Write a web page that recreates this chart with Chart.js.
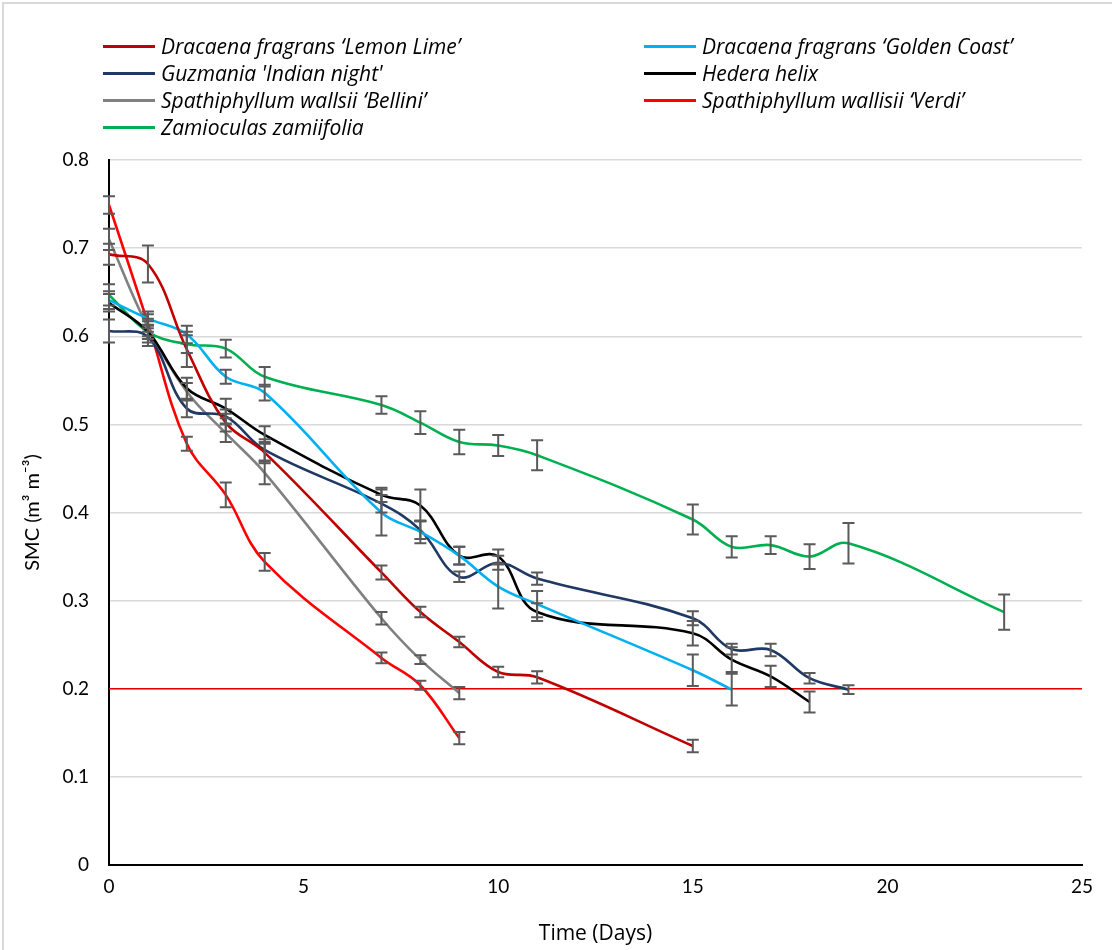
<!DOCTYPE html>
<html>
<head>
<meta charset="utf-8">
<script src="https://cdn.jsdelivr.net/npm/chart.js@4.4.0/dist/chart.umd.min.js"></script>
<style>
  html, body { margin: 0; padding: 0; background: #ffffff; }
  #wrap { position: relative; width: 1112px; height: 950px; overflow: hidden; }
  #frame { position: absolute; left: 2px; top: 2px; width: 1130px; height: 970px;
           border: 2px solid #d9d9d9; box-sizing: border-box; pointer-events: none; }
  canvas { position: absolute; left: 0; top: 0; }
  #legend { position: absolute; left: 0; top: 0; width: 1112px; height: 150px;
            font-family: "Open Sans", Lato, sans-serif; font-style: italic; font-size: 21px; color: #000; }
  .item { position: absolute; height: 26px; display: flex; align-items: center; white-space: nowrap; }
  .swatch { display: inline-block; width: 52px; height: 3px; margin-right: 6px; }
</style>
</head>
<body>
<div id="wrap">
  <canvas id="chart" width="1112" height="950"></canvas>
  <div id="legend"></div>
  <div id="frame"></div>
</div>
<script>
// Sampling days (shared by every species; series simply stop when the run ended)
const days = [0, 1, 2, 3, 4, 7, 8, 9, 10, 11, 15, 16, 17, 18, 19, 23];

// Mean soil moisture content (m3 m-3) per species
const lemonLime    = [0.693, 0.682, 0.585, 0.502, 0.468, 0.332, 0.287, 0.253, 0.219, 0.213, 0.135];
const goldenCoast  = [0.641, 0.620, 0.602, 0.554, 0.536, 0.400, 0.378, 0.351, 0.316, 0.296, 0.221, 0.199];
const guzmania     = [0.606, 0.599, 0.518, 0.509, 0.471, 0.410, 0.380, 0.327, 0.343, 0.325, 0.280, 0.245, 0.244, 0.212, 0.199];
const hedera       = [0.638, 0.605, 0.541, 0.518, 0.488, 0.420, 0.408, 0.351, 0.350, 0.287, 0.263, 0.233, 0.214, 0.185];
const bellini      = [0.710, 0.610, 0.537, 0.490, 0.445, 0.280, 0.233, 0.195];
const verdi        = [0.749, 0.615, 0.478, 0.420, 0.344, 0.235, 0.204, 0.144];
const zamioculas   = [0.647, 0.605, 0.591, 0.586, 0.554, 0.522, 0.502, 0.480, 0.476, 0.465, 0.392, 0.361, 0.363, 0.350, 0.365, 0.287];

// Standard errors for the same points
const lemonLimeErr   = [0.012, 0.021, 0.020, 0.010, 0.012, 0.008, 0.006, 0.006, 0.006, 0.007, 0.007];
const goldenCoastErr = [0.010, 0.008, 0.010, 0.008, 0.009, 0.026, 0.013, 0.010, 0.025, 0.015, 0.018, 0.018];
const guzmaniaErr    = [0.013, 0.010, 0.010, 0.008, 0.012, 0.010, 0.010, 0.006, 0.008, 0.007, 0.008, 0.006, 0.007, 0.006, 0.005];
const hederaErr      = [0.010, 0.012, 0.012, 0.011, 0.010, 0.008, 0.018, 0.010, 0.008, 0.010, 0.014, 0.014, 0.012, 0.012];
const belliniErr     = [0.012, 0.010, 0.010, 0.010, 0.013, 0.007, 0.005, 0.007];
const verdiErr       = [0.010, 0.010, 0.008, 0.014, 0.010, 0.006, 0.005, 0.007];
const zamioculasErr  = [0.012, 0.008, 0.010, 0.010, 0.011, 0.010, 0.013, 0.014, 0.012, 0.017, 0.017, 0.012, 0.010, 0.014, 0.023, 0.020];

// Re-watering threshold
const threshold = 0.2;

// Axis ticks
const xTicks = [0, 5, 10, 15, 20, 25];
const yTicks = [0, 0.1, 0.2, 0.3, 0.4, 0.5, 0.6, 0.7, 0.8];

const series = [
  { name: 'Dracaena fragrans \u2018Lemon Lime\u2019',    color: '#C00000', values: lemonLime,   errors: lemonLimeErr },
  { name: 'Dracaena fragrans \u2018Golden Coast\u2019',  color: '#00B0F0', values: goldenCoast, errors: goldenCoastErr },
  { name: "Guzmania 'Indian night'",                     color: '#1F3864', values: guzmania,    errors: guzmaniaErr },
  { name: 'Hedera helix',                                color: '#000000', values: hedera,      errors: hederaErr },
  { name: 'Spathiphyllum wallsii \u2018Bellini\u2019',   color: '#808080', values: bellini,     errors: belliniErr },
  { name: 'Spathiphyllum wallisii \u2018Verdi\u2019',    color: '#FF0000', values: verdi,       errors: verdiErr },
  { name: 'Zamioculas zamiifolia',                       color: '#00B050', values: zamioculas,  errors: zamioculasErr }
];

const datasets = series.map(s => ({
  label: s.name,
  data: s.values.map((v, i) => ({ x: days[i], y: v })),
  errors: s.errors,
  borderColor: s.color,
  backgroundColor: s.color,
  borderWidth: 2.6,
  pointRadius: 0,
  tension: 0.38,
  fill: false
}));

datasets.push({
  label: 'threshold',
  data: [{ x: xTicks[0], y: threshold }, { x: xTicks[xTicks.length - 1], y: threshold }],
  borderColor: '#E00000',
  borderWidth: 1.5,
  pointRadius: 0,
  tension: 0,
  fill: false
});

// Vertical error bars with caps, positioned through the chart scales
const errorBars = {
  id: 'errorBars',
  afterDatasetsDraw(chart) {
    const { ctx, scales: { x, y } } = chart;
    ctx.save();
    ctx.strokeStyle = '#5a5a5a';
    ctx.lineWidth = 2;
    chart.data.datasets.forEach(ds => {
      if (!ds.errors) return;
      ds.data.forEach((pt, j) => {
        const e = ds.errors[j];
        if (e == null) return;
        const px = x.getPixelForValue(pt.x);
        const pTop = y.getPixelForValue(pt.y + e);
        const pBot = y.getPixelForValue(pt.y - e);
        ctx.beginPath();
        ctx.moveTo(px, pTop); ctx.lineTo(px, pBot);
        ctx.moveTo(px - 6, pTop); ctx.lineTo(px + 6, pTop);
        ctx.moveTo(px - 6, pBot); ctx.lineTo(px + 6, pBot);
        ctx.stroke();
      });
    });
    ctx.restore();
  }
};

const tickFont = { family: 'Lato, "Open Sans", sans-serif', size: 19 };

new Chart(document.getElementById('chart'), {
  type: 'line',
  data: { datasets },
  options: {
    responsive: false,
    animation: false,
    layout: { padding: { left: 0, top: 160, right: 30, bottom: 0 } },
    plugins: { legend: { display: false }, tooltip: { enabled: false } },
    scales: {
      x: {
        type: 'linear',
        min: xTicks[0],
        max: xTicks[xTicks.length - 1],
        afterBuildTicks: s => { s.ticks = xTicks.map(v => ({ value: v })); },
        afterFit: s => { s.height = 85; },
        grid: { display: false, drawTicks: false },
        border: { display: true, color: '#000000', width: 2 },
        ticks: { color: '#000000', font: tickFont, padding: 10, maxRotation: 0 },
        title: { display: true, text: 'Time (Days)', color: '#000000',
                 font: { family: '"Open Sans", Lato, sans-serif', size: 21 }, padding: { top: 0, bottom: 3 } }
      },
      y: {
        type: 'linear',
        min: yTicks[0],
        max: yTicks[yTicks.length - 1],
        afterBuildTicks: s => { s.ticks = yTicks.map(v => ({ value: v })); },
        afterFit: s => { s.width = 109; },
        grid: { color: '#d9d9d9', lineWidth: 1.5, drawTicks: false },
        border: { display: true, color: '#000000', width: 2 },
        ticks: { color: '#000000', font: tickFont, padding: 20,
                 callback: v => String(Math.round(v * 10) / 10) },
        title: { display: true, text: 'SMC (m\u00B3 m\u207B\u00B3)', color: '#000000',
                 font: { family: 'Lato, "Open Sans", sans-serif', size: 20 }, padding: { top: 21, bottom: 0 } }
      }
    }
  },
  plugins: [errorBars]
});

// Two-column legend
const legend = document.getElementById('legend');
const colX = [103, 644];
const rowY = [33, 60, 87, 114];
series.forEach((s, i) => {
  const item = document.createElement('div');
  item.className = 'item';
  item.style.left = colX[i % 2] + 'px';
  item.style.top = rowY[Math.floor(i / 2)] + 'px';
  const sw = document.createElement('span');
  sw.className = 'swatch';
  sw.style.background = s.color;
  const tx = document.createElement('span');
  tx.textContent = s.name;
  item.appendChild(sw);
  item.appendChild(tx);
  legend.appendChild(item);
});
</script>
</body>
</html>
